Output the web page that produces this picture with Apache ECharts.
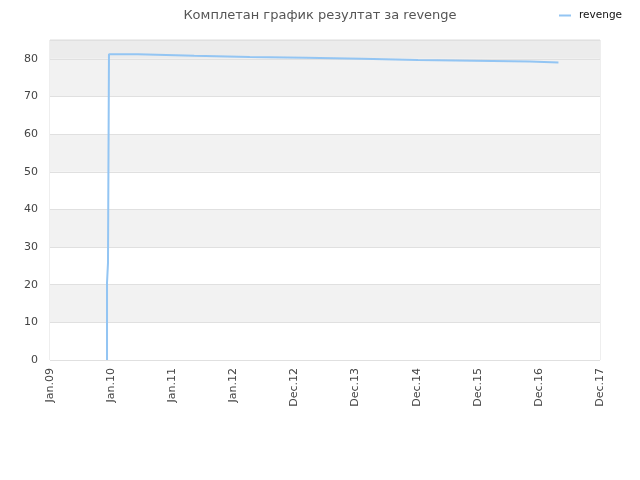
<!DOCTYPE html>
<html>
<head>
<meta charset="utf-8">
<script src="https://cdn.jsdelivr.net/npm/echarts@6/dist/echarts.min.js"></script>
<style>
  html, body { margin: 0; padding: 0; background: #fff; }
  #chart { width: 640px; height: 480px; }
</style>
</head>
<body>
<div id="chart"></div>
<script>
// x in years since Jan.09, y = result
const tickLabels = ["Jan.09", "Jan.10", "Jan.11", "Jan.12", "Dec.12", "Dec.13", "Dec.14", "Dec.15", "Dec.16", "Dec.17"]
const stepX = [0.933, 0.933, 0.949, 0.965, 1.44, 2.36, 3.27, 4.19, 5.10, 6.02, 6.94, 7.85, 8.32]
const stepY = [0, 20.5, 25.8, 81.2, 80.8, 80.5, 80.3, 80.0, 79.7, 79.5, 79.3, 79.0, 79.0]
const bandColors = ["#ffffff", "#f2f2f2", "#ffffff", "#f2f2f2", "#ffffff", "#f2f2f2", "#ffffff", "#f2f2f2", "#ececec"]

// each value is held until the next x, then the line jumps
const stepData = []
stepX.forEach((x, i) => {
  stepData.push([x, stepY[i]])
  if (i < stepX.length - 1) stepData.push([stepX[i + 1], stepY[i]])
})

const chart = echarts.init(document.getElementById("chart"))

const options = {
  animation: false,
  title: {
    text: "Комплетан график резултат за revenge",
    left: "center",
    top: 4,
    textStyle: { fontFamily: "DejaVu Sans", fontSize: 13, fontWeight: "normal", color: "#555" }
  },
  legend: {
    right: 13,
    top: 5,
    itemWidth: 12,
    itemHeight: 2,
    icon: "rect",
    textStyle: { fontFamily: "DejaVu Sans", fontSize: 10.5, color: "#111", padding: [0, 0, 0, 3] },
    data: ["revenge"]
  },
  grid: { left: 50, right: 40, top: 40, bottom: 120, containLabel: false,
    show: true, borderColor: "#dddddd", borderWidth: 1 },
  xAxis: {
    type: "value",
    min: 0,
    max: 9,
    interval: 1,
    axisLine: { show: false },
    axisTick: { show: false },
    splitLine: { show: false },
    axisLabel: {
      rotate: 90,
      fontFamily: "DejaVu Sans",
      fontSize: 11,
      color: "#444",
      margin: 8,
      formatter: v => tickLabels[Math.round(v)]
    }
  },
  yAxis: {
    type: "value",
    min: 0,
    max: 85,
    interval: 10,
    axisLine: { show: false },
    axisTick: { show: false },
    axisLabel: { fontFamily: "DejaVu Sans", fontSize: 11, color: "#444", margin: 12,
      showMaxLabel: false },
    splitLine: { show: true, lineStyle: { color: "#e0e0e0", width: 1 } },
    splitArea: { show: true, areaStyle: { color: bandColors } }
  },
  series: [{
    name: "revenge",
    type: "line",
    showSymbol: false,
    data: stepData,
    lineStyle: { color: "#93c5f3", width: 2 },
    itemStyle: { color: "#93c5f3" }
  }]
}

chart.setOption(options)
</script>
</body>
</html>
